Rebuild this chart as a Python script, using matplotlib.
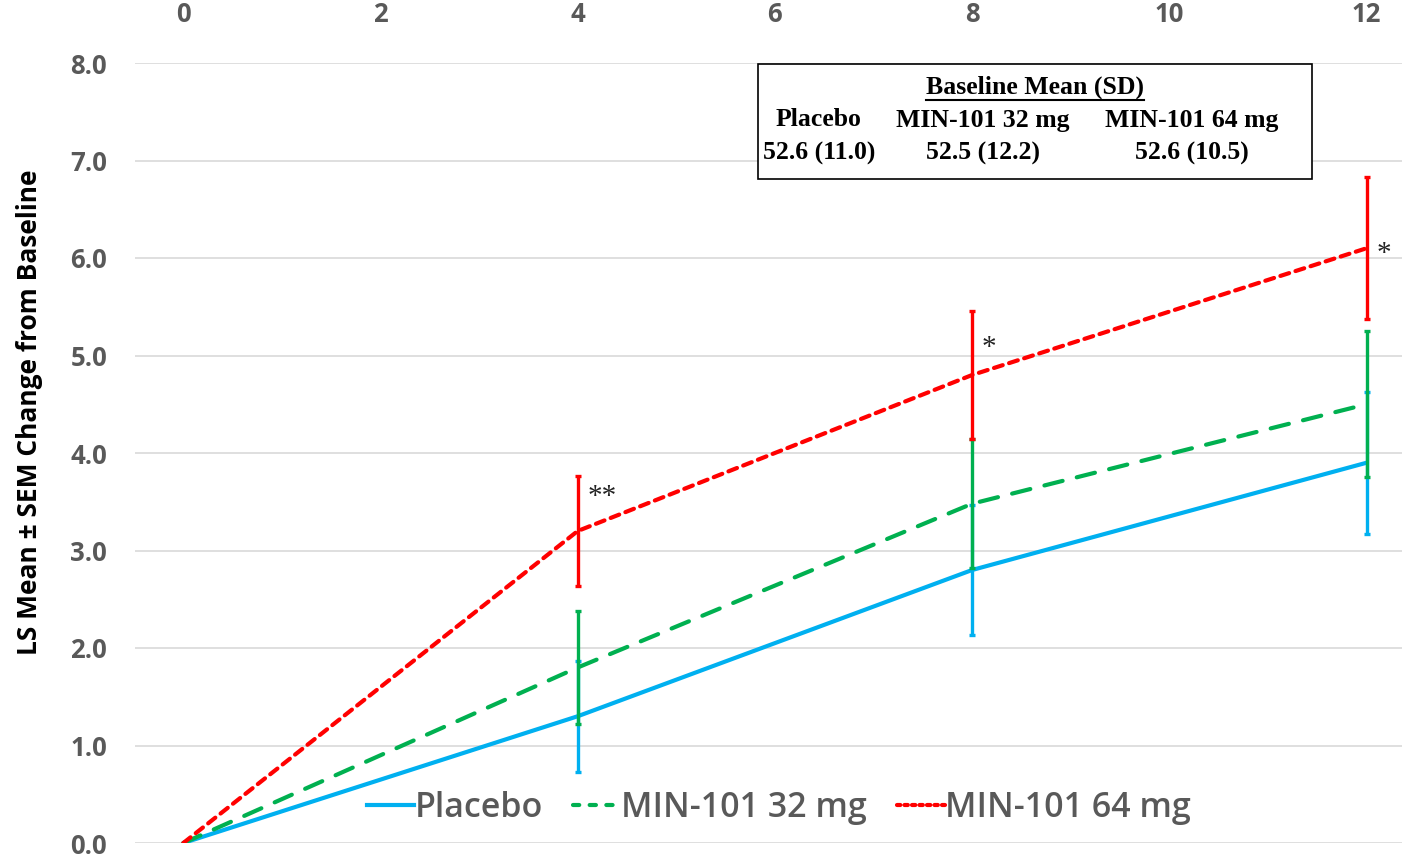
import matplotlib
matplotlib.use("Agg")
import matplotlib.pyplot as plt
from matplotlib.lines import Line2D

weeks = [0, 4, 8, 12]
placebo = [0.0, 1.30, 2.80, 3.90]
placebo_sem = [0.0, 0.57, 0.67, 0.73]
mg32 = [0.0, 1.80, 3.48, 4.50]
mg32_sem = [0.0, 0.58, 0.66, 0.75]
mg64 = [0.0, 3.20, 4.80, 6.10]
mg64_sem = [0.0, 0.56, 0.66, 0.73]
series_names = ["Placebo", "MIN-101 32 mg", "MIN-101 64 mg"]
sig_x = [4.1, 8.1, 12.1]
sig_y = [3.55, 5.08, 6.04]
sig_text = ["**", "*", "*"]
x_ticks = [0, 2, 4, 6, 8, 10, 12]
y_ticks = [0, 1, 2, 3, 4, 5, 6, 7, 8]
table_title = "Baseline Mean (SD)"
table_values = ["52.6 (11.0)", "52.5 (12.2)", "52.6 (10.5)"]

BLUE = "#00B0F0"
GREEN = "#00B050"
RED = "#FF0000"
GRAY = "#595959"

fig = plt.figure(figsize=(14.02, 8.59), dpi=100)
ax = fig.add_axes([135/1402, 16/859, 1 - 135/1402, (843-63)/859])

lw = 3.0
ax.errorbar(weeks[1:], placebo[1:], yerr=placebo_sem[1:], fmt='none', ecolor=BLUE,
            elinewidth=2.4, capsize=2.5, capthick=2.4, zorder=3)
ax.plot(weeks, placebo, color=BLUE, lw=lw, solid_capstyle='round', zorder=4)
ax.errorbar(weeks[1:], mg32[1:], yerr=mg32_sem[1:], fmt='none', ecolor=GREEN,
            elinewidth=2.4, capsize=2.5, capthick=2.4, zorder=5)
ax.plot(weeks, mg32, color=GREEN, lw=lw, dashes=(4.5, 3.5), dash_capstyle='round', zorder=6)
ax.errorbar(weeks[1:], mg64[1:], yerr=mg64_sem[1:], fmt='none', ecolor=RED,
            elinewidth=2.4, capsize=2.5, capthick=2.4, zorder=7)
ax.plot(weeks, mg64, color=RED, lw=lw, dashes=(2.2, 1.6), dash_capstyle='round', zorder=8)

for x, y, s in zip(sig_x, sig_y, sig_text):
    ax.text(x, y, s, fontsize=21, family='Liberation Serif',
            color='#222222', ha='left', va='center')

ax.set_xlim(-0.49, 12.36)
ax.set_ylim(0, 8)
ax.set_xticks(x_ticks)
ax.set_yticks(y_ticks)
ax.set_yticklabels([f"{v:.1f}" for v in y_ticks])
ax.xaxis.tick_top()
ax.tick_params(axis='both', length=0, labelsize=18.5, labelcolor=GRAY)
ax.tick_params(axis='y', pad=20)
ax.tick_params(axis='x', pad=25)
for lab in ax.get_xticklabels() + ax.get_yticklabels():
    lab.set_family('Open Sans')
    lab.set_fontweight('bold')
ax.grid(axis='y', color='#D9D9D9', lw=1.2)
ax.set_axisbelow(True)
for sp in ax.spines.values():
    sp.set_visible(False)

fig.text(30/1402, 1 - 412/859, "LS Mean ± SEM Change from Baseline", rotation=90,
         ha='center', va='center', fontsize=19, fontweight='bold', family='Open Sans', color='black')

handles = [Line2D([], [], color=BLUE, lw=lw),
           Line2D([], [], color=GREEN, lw=lw, dashes=(1.5, 2.5), dash_capstyle='round'),
           Line2D([], [], color=RED, lw=lw, dashes=(0.8, 1.0), dash_capstyle='round')]
leg = ax.legend(handles, series_names, loc='center', bbox_to_anchor=(0.508, 0.045),
                ncol=3, frameon=False, handlelength=1.4, handletextpad=0.0, columnspacing=0.9,
                prop={'family': 'Open Sans', 'size': 24.5, 'weight': 'semibold'})
for t in leg.get_texts():
    t.set_color(GRAY)

# Baseline table box
def fx(px):
    return px / 1402
def fy(py):
    return 1 - py / 859

box = plt.Rectangle((fx(758), fy(179)), fx(1312) - fx(758), fy(64) - fy(179),
                    transform=fig.transFigure, facecolor='white', edgecolor='black', lw=1.2, zorder=10)
fig.add_artist(box)
tfont = dict(family='Liberation Serif', fontweight='bold', fontsize=18.5, color='black', zorder=11)
title = fig.text(fx(1035), fy(87), table_title, ha='center', va='center', **tfont)
col_x = [819, 983, 1192]
for cx, name, val in zip(col_x, series_names, table_values):
    fig.text(fx(cx), fy(120), name, ha='center', va='center', **tfont)
    fig.text(fx(cx), fy(153), val, ha='center', va='center', **tfont)

fig.canvas.draw()
bb = title.get_window_extent()
uy = bb.y0 - 1
fig.add_artist(Line2D([bb.x0 / fig.bbox.width, bb.x1 / fig.bbox.width],
                      [uy / fig.bbox.height, uy / fig.bbox.height],
                      transform=fig.transFigure, color='black', lw=1.5, zorder=12))

fig.savefig("out.png", dpi=100)
